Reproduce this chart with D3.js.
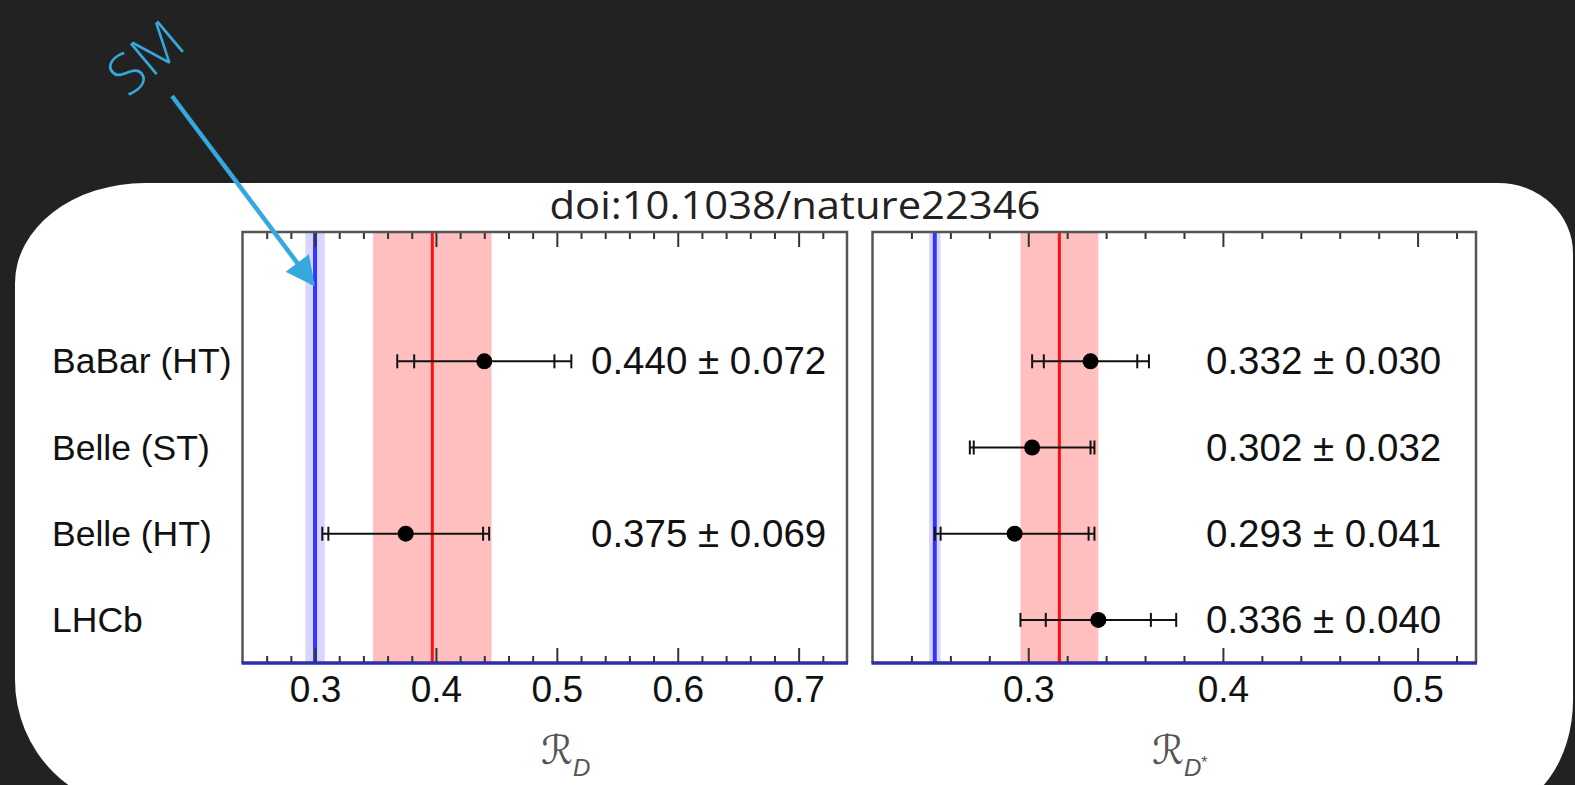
<!DOCTYPE html>
<html>
<head>
<meta charset="utf-8">
<script src="https://cdn.jsdelivr.net/npm/d3@7"></script>
<style>
  html, body { margin: 0; padding: 0; background: #222222; }
  svg { display: block; }
</style>
</head>
<body>
<svg id="chart" width="1575" height="785"></svg>
<script>
// ---------------- data ----------------
const experiments = ["BaBar (HT)", "Belle (ST)", "Belle (HT)", "LHCb"];

// R(D)
const rdValues = [0.440, null, 0.375, null];
const rdStat   = [0.058, null, 0.064, null];
const rdTotal  = [0.072, null, 0.069, null];
const rdLabels = ["0.440 ± 0.072", "", "0.375 ± 0.069", ""];
const rdAverage = [0.397, 0.049];   // value, total error
const rdSM      = [0.300, 0.008];
const rdTicks   = [0.3, 0.4, 0.5, 0.6, 0.7];
const rdDomain  = [0.24, 0.74];

// R(D*)
const rdsValues = [0.332, 0.302, 0.293, 0.336];
const rdsStat   = [0.024, 0.030, 0.038, 0.027];
const rdsTotal  = [0.030, 0.032, 0.041, 0.040];
const rdsLabels = ["0.332 ± 0.030", "0.302 ± 0.032", "0.293 ± 0.041", "0.336 ± 0.040"];
const rdsAverage = [0.316, 0.020];
const rdsSM      = [0.252, 0.003];
const rdsTicks   = [0.3, 0.4, 0.5];
const rdsDomain  = [0.22, 0.53];

const titleText = "doi:10.1038/nature22346";
const annotationText = "SM";

// ---------------- layout ----------------
const svg = d3.select("#chart");
const plotTop = 232, plotBottom = 663;
const FONT = "'Liberation Sans', Arial, Helvetica, sans-serif";

// white rounded card
svg.append("path")
  .attr("d", [
    "M145,183", "L1498,183", "A75,70 0 0 1 1573,253",
    "L1573,700", "A80,110 0 0 1 1493,810",
    "L145,810", "A130,130 0 0 1 15,680",
    "L15,283", "A130,100 0 0 1 145,183", "Z"
  ].join(" "))
  .attr("fill", "#ffffff");

// title
svg.append("text")
  .attr("x", 795).attr("y", 219)
  .attr("text-anchor", "middle")
  .attr("font-family", "'Open Sans', 'DejaVu Sans Condensed', sans-serif")
  .attr("font-size", 39)
  .attr("fill", "#222")
  .attr("textLength", 491)
  .attr("lengthAdjust", "spacingAndGlyphs")
  .text(titleText);

const y = d3.scalePoint().domain(experiments)
  .range([plotTop + 0.3 * (plotBottom - plotTop), plotTop + 0.9 * (plotBottom - plotTop)]);

function panel(cfg) {
  const x = d3.scaleLinear().domain(cfg.domain).range([cfg.x0, cfg.x1]);
  const g = svg.append("g");
  const h = plotBottom - plotTop;

  // SM band
  g.append("rect")
    .attr("x", x(cfg.sm[0] - cfg.sm[1])).attr("y", plotTop)
    .attr("width", x(cfg.sm[0] + cfg.sm[1]) - x(cfg.sm[0] - cfg.sm[1]))
    .attr("height", h).attr("fill", "#d6d6ff");
  // average band
  g.append("rect")
    .attr("x", x(cfg.avg[0] - cfg.avg[1])).attr("y", plotTop)
    .attr("width", x(cfg.avg[0] + cfg.avg[1]) - x(cfg.avg[0] - cfg.avg[1]))
    .attr("height", h).attr("fill", "#ffbfbf");

  g.append("line")
    .attr("x1", x(cfg.sm[0])).attr("x2", x(cfg.sm[0]))
    .attr("y1", plotTop).attr("y2", plotBottom)
    .attr("stroke", "#3535ff").attr("stroke-width", 4);
  g.append("line")
    .attr("x1", x(cfg.avg[0])).attr("x2", x(cfg.avg[0]))
    .attr("y1", plotTop).attr("y2", plotBottom)
    .attr("stroke", "#ff1010").attr("stroke-width", 3);

  // minor + major ticks, bottom and top
  const minors = d3.range(cfg.domain[0], cfg.domain[1] + 1e-9, 0.02)
    .map(v => +v.toFixed(2))
    .filter(v => v > cfg.domain[0] + 1e-6 && v < cfg.domain[1] - 1e-6 && !cfg.ticks.some(t => Math.abs(t - v) < 1e-6));

  const styleAxis = sel => {
    sel.select(".domain").remove();
    sel.selectAll(".tick line").attr("stroke", "#333").attr("stroke-width", 2);
  };

  g.append("g").attr("transform", `translate(0,${plotBottom})`)
    .call(d3.axisBottom(x).tickValues(minors).tickSizeInner(-7).tickSizeOuter(0).tickFormat(""))
    .call(styleAxis);
  g.append("g").attr("transform", `translate(0,${plotTop})`)
    .call(d3.axisTop(x).tickValues(minors).tickSizeInner(-7).tickSizeOuter(0).tickFormat(""))
    .call(styleAxis);
  g.append("g").attr("transform", `translate(0,${plotTop})`)
    .call(d3.axisTop(x).tickValues(cfg.ticks).tickSizeInner(-15).tickSizeOuter(0).tickFormat(""))
    .call(styleAxis);
  const bx = g.append("g").attr("transform", `translate(0,${plotBottom})`)
    .call(d3.axisBottom(x).tickValues(cfg.ticks).tickSizeInner(-15).tickSizeOuter(0)
      .tickPadding(13).tickFormat(d3.format(".1f")))
    .call(styleAxis);
  bx.selectAll(".tick text")
    .attr("font-family", FONT).attr("font-size", 37).attr("fill", "#111");

  // frame
  g.append("path")
    .attr("d", `M${cfg.x0},${plotBottom} L${cfg.x0},${plotTop} L${cfg.x1},${plotTop} L${cfg.x1},${plotBottom}`)
    .attr("fill", "none").attr("stroke", "#555").attr("stroke-width", 2.5);
  g.append("line")
    .attr("x1", cfg.x0 - 1).attr("x2", cfg.x1 + 1)
    .attr("y1", plotBottom).attr("y2", plotBottom)
    .attr("stroke", "#2e2ea8").attr("stroke-width", 3.5);

  // error bars
  const rows = experiments.map((e, i) => ({
    e, v: cfg.values[i], s: cfg.stat[i], t: cfg.total[i], label: cfg.labels[i]
  })).filter(d => d.v != null);

  const eb = g.selectAll(".eb").data(rows).join("g").attr("class", "eb");
  eb.append("line")
    .attr("x1", d => x(d.v - d.t)).attr("x2", d => x(d.v + d.t))
    .attr("y1", d => y(d.e)).attr("y2", d => y(d.e))
    .attr("stroke", "#111").attr("stroke-width", 2);
  [d => d.v - d.t, d => d.v + d.t, d => d.v - d.s, d => d.v + d.s].forEach(fn => {
    eb.append("line")
      .attr("x1", d => x(fn(d))).attr("x2", d => x(fn(d)))
      .attr("y1", d => y(d.e) - 7).attr("y2", d => y(d.e) + 7)
      .attr("stroke", "#111").attr("stroke-width", 2);
  });
  eb.append("circle")
    .attr("cx", d => x(d.v)).attr("cy", d => y(d.e)).attr("r", 8)
    .attr("fill", "#000");

  g.selectAll(".val").data(rows).join("text").attr("class", "val")
    .attr("x", cfg.labelX).attr("y", d => y(d.e) + 13)
    .attr("font-family", FONT).attr("font-size", 38.5).attr("fill", "#111")
    .text(d => d.label);

  // axis title
  const t = g.append("text")
    .attr("x", cfg.titleX).attr("y", 764)
    .attr("font-family", "'DejaVu Serif', 'DejaVu Sans', serif")
    .attr("font-size", 40).attr("fill", "#555");
  t.append("tspan").text("ℛ");
  t.append("tspan").attr("dy", 12).attr("font-size", 24)
    .attr("font-style", "italic").attr("font-family", FONT).text(cfg.sub);
  if (cfg.sup) {
    t.append("tspan").attr("dy", -8).attr("font-size", 16).attr("font-family", FONT).text(cfg.sup);
  }
  return x;
}

const xD = panel({
  domain: rdDomain, x0: 242.5, x1: 847, ticks: rdTicks,
  values: rdValues, stat: rdStat, total: rdTotal, labels: rdLabels,
  avg: rdAverage, sm: rdSM, labelX: 591, titleX: 541, sub: "D"
});
panel({
  domain: rdsDomain, x0: 872.5, x1: 1476, ticks: rdsTicks,
  values: rdsValues, stat: rdsStat, total: rdsTotal, labels: rdsLabels,
  avg: rdsAverage, sm: rdsSM, labelX: 1206, titleX: 1152, sub: "D", sup: "*"
});

// row labels
svg.selectAll(".rowlab").data(experiments).join("text").attr("class", "rowlab")
  .attr("x", 52).attr("y", d => y(d) + 12)
  .attr("font-family", FONT).attr("font-size", 35.5).attr("fill", "#111")
  .text(d => d);

// SM annotation
const ANN = "#35a8dc";
const tipX = xD(rdSM[0]), tipY = 287;
svg.append("defs").append("marker")
  .attr("id", "arrow").attr("viewBox", "0 0 10 10")
  .attr("refX", 9).attr("refY", 5)
  .attr("markerWidth", 6.5).attr("markerHeight", 6.5)
  .attr("markerUnits", "strokeWidth")
  .attr("orient", "auto")
  .append("path").attr("d", "M0,0 L10,5 L0,10 Z").attr("fill", ANN);
svg.append("line")
  .attr("x1", 172).attr("y1", 96)
  .attr("x2", tipX - 2).attr("y2", tipY - 3)
  .attr("stroke", ANN).attr("stroke-width", 4.5)
  .attr("marker-end", "url(#arrow)");
svg.append("text")
  .attr("transform", "translate(144,56) rotate(-40)")
  .attr("text-anchor", "middle").attr("dominant-baseline", "central")
  .attr("font-family", "'Open Sans', sans-serif").attr("font-weight", 300)
  .attr("font-size", 56).attr("fill", ANN)
  .text(annotationText);
</script>
</body>
</html>
